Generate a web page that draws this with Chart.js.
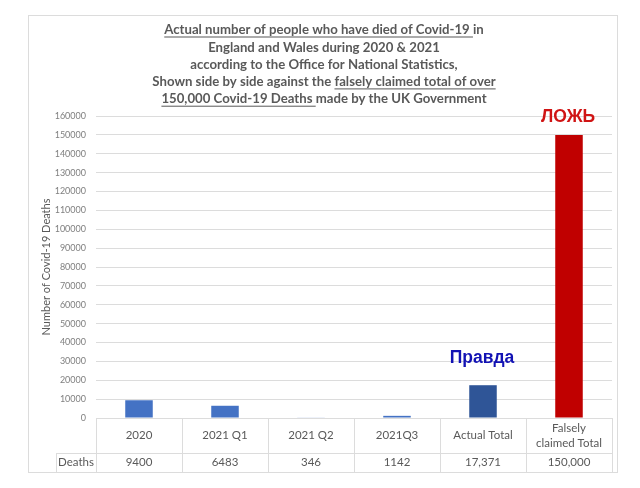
<!DOCTYPE html>
<html>
<head>
<meta charset="utf-8">
<script src="https://cdn.jsdelivr.net/npm/chart.js@4.4.0/dist/chart.umd.min.js"></script>
<style>
  html, body { margin: 0; padding: 0; background: #fff; }
  #wrap { position: relative; width: 640px; height: 488px; }
</style>
</head>
<body>
<div id="wrap"><canvas id="deathsChart"></canvas></div>
<script>
// Valeurs
const categories = ['2020', '2021 Q1', '2021 Q2', '2021Q3', 'Actual Total', ['Falsely', 'claimed Total']];
const deaths = [9400, 6483, 346, 1142, 17371, 150000];
const tableLabels = ['9400', '6483', '346', '1142', '17,371', '150,000'];
const rowLabel = 'Deaths';
const callouts = ['', '', '', '', 'Правда', 'ЛОЖЬ'];
const yMax = 160000;
const yStep = 10000;

const titleLines = [
    [['Actual number of people who have died of Covid-19 ', true], ['in', false]],
    [['England and Wales during 2020 & 2021', false]],
    [['according to the Office for National Statistics,', false]],
    [['Shown side by side against the ', false], ['falsely claimed total of over', true]],
    [['150,000 Covid-19 Deaths ', true], ['made by the UK Government', false]]
];

const barColors = ['#4472C4', '#4472C4', '#8FAADC', '#4472C4', '#2F5597', '#C00000'];
const calloutColors = ['', '', '', '', '#1212B4', '#D01414'];
const calloutGaps = [0, 0, 0, 0, 22, 13];
const textGrey = '#595959';
const lineGrey = '#dcdcdc';

// Cadre + titre souligné en partie
const framePlugin = {
    id: 'frame',
    beforeDraw(chart) {
        const ctx = chart.ctx;
        ctx.save();
        ctx.strokeStyle = lineGrey;
        ctx.lineWidth = 1;
        ctx.strokeRect(28.5, 15.5, 589, 457);

        ctx.font = 'bold 13.2px Lato';
        ctx.fillStyle = textGrey;
        ctx.textBaseline = 'middle';
        ctx.textAlign = 'left';
        titleLines.forEach((line, i) => {
            const y = 30 + i * 17.3;
            const total = line.reduce((s, seg) => s + ctx.measureText(seg[0]).width, 0);
            let x = 324 - total / 2;
            line.forEach(([text, underline]) => {
                const w = ctx.measureText(text).width;
                ctx.fillText(text, x, y);
                if (underline) ctx.fillRect(x, y + 6.5, w, 1);
                x += w;
            });
        });
        ctx.restore();
    }
};

// Tableau de données sous le graphique + étiquettes Правда / ЛОЖЬ
const tablePlugin = {
    id: 'dataTable',
    afterDraw(chart) {
        const ctx = chart.ctx;
        const area = chart.chartArea;
        const xScale = chart.scales.x;
        const n = categories.length;
        const colW = area.width / n;
        const top = area.bottom;
        const mid = top + 35;
        const bottom = top + 54;
        const labelLeft = 56;

        ctx.save();
        ctx.strokeStyle = lineGrey;
        ctx.lineWidth = 1;
        ctx.beginPath();
        for (let i = 0; i <= n; i++) {
            const x = Math.round(area.left + i * colW) + 0.5;
            ctx.moveTo(x, top);
            ctx.lineTo(x, bottom);
        }
        ctx.moveTo(labelLeft + 0.5, mid);
        ctx.lineTo(labelLeft + 0.5, bottom);
        ctx.moveTo(labelLeft, mid + 0.5);
        ctx.lineTo(area.right, mid + 0.5);
        ctx.moveTo(labelLeft, bottom + 0.5);
        ctx.lineTo(area.right, bottom + 0.5);
        ctx.stroke();

        ctx.fillStyle = textGrey;
        ctx.font = '11.5px Lato';
        ctx.textAlign = 'center';
        ctx.textBaseline = 'middle';
        categories.forEach((cat, i) => {
            const x = xScale.getPixelForValue(i);
            if (Array.isArray(cat)) {
                ctx.fillText(cat[0], x, top + 10);
                ctx.fillText(cat[1], x, top + 25);
            } else {
                ctx.fillText(cat, x, top + 17);
            }
            ctx.fillText(tableLabels[i], x, mid + 9.5);
        });
        ctx.fillText(rowLabel, (labelLeft + area.left) / 2, mid + 9.5);

        const meta = chart.getDatasetMeta(0);
        ctx.font = 'bold 17.5px "Liberation Sans"';
        ctx.textBaseline = 'alphabetic';
        callouts.forEach((txt, i) => {
            if (!txt) return;
            const bar = meta.data[i];
            ctx.fillStyle = calloutColors[i];
            ctx.fillText(txt, bar.x - 1, bar.y - calloutGaps[i]);
        });
        ctx.restore();
    }
};

const ctx = document.getElementById('deathsChart').getContext('2d');
const chart = new Chart(ctx, {
    type: 'bar',
    data: {
        labels: categories,
        datasets: [{
            label: rowLabel,
            data: deaths,
            backgroundColor: barColors,
            borderWidth: 0,
            categoryPercentage: 1,
            barPercentage: 0.32
        }]
    },
    options: {
        responsive: true,
        maintainAspectRatio: false,
        animation: false,
        layout: { padding: { left: 28, right: 28, top: 116, bottom: 70 } },
        plugins: {
            legend: { display: false },
            tooltip: { enabled: false }
        },
        scales: {
            x: { display: false },
            y: {
                min: 0,
                max: yMax,
                afterFit: scale => { scale.width = 68; },
                border: { display: false },
                grid: { color: lineGrey, drawTicks: false },
                ticks: {
                    stepSize: yStep,
                    padding: 10,
                    color: '#808080',
                    font: { family: 'Lato', size: 9 },
                    callback: v => String(v)
                },
                title: {
                    display: true,
                    text: 'Number of Covid-19 Deaths',
                    color: textGrey,
                    font: { family: 'Lato', size: 11 },
                    padding: { top: 12, bottom: 0 }
                }
            }
        }
    },
    plugins: [framePlugin, tablePlugin]
});
</script>
</body>
</html>
